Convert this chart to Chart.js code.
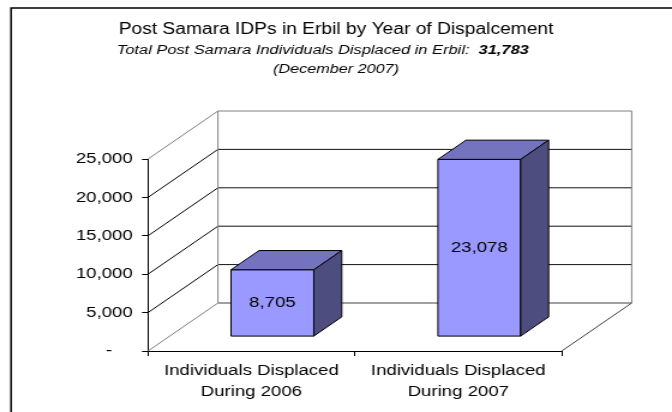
<!DOCTYPE html>
<html>
<head>
<meta charset="utf-8">
<script src="https://cdn.jsdelivr.net/npm/chart.js@4/dist/chart.umd.min.js"></script>
<style>
  html, body { margin: 0; padding: 0; background: #fff; overflow: hidden; }
  /* the original picture is stretched sideways, so draw narrow and widen it */
  #wrap { width: 560px; height: 412px; transform: scaleX(1.2); transform-origin: 0 0; }
</style>
</head>
<body>
<div id="wrap"><canvas id="idpChart" width="560" height="412"></canvas></div>
<script>
const categories = [["Individuals Displaced", "During 2006"], ["Individuals Displaced", "During 2007"]];
const displaced = [8705, 23078];
const yTicks = [0, 5000, 10000, 15000, 20000, 25000];
const titleText = "Post Samara IDPs in Erbil by Year of Dispalcement";
const subtitleText = "Total Post Samara Individuals Displaced in Erbil:  ";
const totalText = "31,783";
const dateText = "(December 2007)";

const FONT = '"Liberation Sans", Arial, sans-serif';
const DEPTH_X = 58.3;   // depth of the 3d box
const DEPTH_Y = -48;

function fmt(v) {
    return v === 0 ? "-    " : v.toLocaleString("en-US");
}

const box3d = {
    id: "box3d",
    beforeDraw(chart) {
        const ctx = chart.ctx;
        const cx = chart.width / 2;
        ctx.save();
        ctx.fillStyle = "#fff";
        ctx.fillRect(0, 0, chart.width, chart.height);

        // outer frame (only top and left are visible)
        ctx.strokeStyle = "#000";
        ctx.lineWidth = 1.5;
        ctx.beginPath();
        ctx.moveTo(9.2, chart.height + 2);
        ctx.lineTo(9.2, 8);
        ctx.lineTo(chart.width + 2, 8);
        ctx.stroke();

        // header
        ctx.fillStyle = "#000";
        ctx.textBaseline = "middle";
        ctx.textAlign = "center";
        ctx.font = "16px " + FONT;
        ctx.fillText(titleText, cx, 30);

        // second line sits a little left of centre in the original
        ctx.textAlign = "left";
        ctx.font = "italic 13.7px " + FONT;
        const w1 = ctx.measureText(subtitleText).width;
        ctx.font = "italic bold 13.7px " + FONT;
        const w2 = ctx.measureText(totalText).width;
        let x = 269 - (w1 + w2) / 2;
        ctx.font = "italic 13.7px " + FONT;
        ctx.fillText(subtitleText, x, 50.5);
        ctx.font = "italic bold 13.7px " + FONT;
        ctx.fillText(totalText, x + w1, 50.5);

        ctx.textAlign = "center";
        ctx.font = "italic 13.5px " + FONT;
        ctx.fillText(dateText, cx, 69.5);
        ctx.restore();
    },
    beforeDatasetsDraw(chart) {
        const { ctx, chartArea: a, scales: { y } } = chart;
        const dx = DEPTH_X, dy = DEPTH_Y;
        const line = (x1, y1, x2, y2, c) => {
            ctx.strokeStyle = c;
            ctx.beginPath();
            ctx.moveTo(x1, y1);
            ctx.lineTo(x2, y2);
            ctx.stroke();
        };
        ctx.save();
        ctx.lineWidth = 1;
        const last = yTicks.length - 1;
        yTicks.forEach((v, i) => {
            const py = y.getPixelForValue(v);
            const edge = i === 0 || i === last;
            // side wall
            line(a.left, py, a.left + dx, py + dy, edge ? "#7f7f7f" : "#000");
            // back wall
            line(a.left + dx, py + dy, a.right + dx, py + dy,
                i === last ? "#7f7f7f" : (i === 0 ? "#404040" : "#111"));
        });
        line(a.left + dx, a.top + dy, a.left + dx, a.bottom + dy, "#7f7f7f");
        line(a.right + dx, a.top + dy, a.right + dx, a.bottom + dy, "#7f7f7f");
        line(a.right, a.bottom, a.right + dx, a.bottom + dy, "#404040");
        ctx.restore();
    },
    afterDatasetsDraw(chart) {
        const ctx = chart.ctx;
        const dx = DEPTH_X, dy = DEPTH_Y;
        const poly = (pts, fill) => {
            ctx.beginPath();
            ctx.moveTo(pts[0][0], pts[0][1]);
            pts.slice(1).forEach(p => ctx.lineTo(p[0], p[1]));
            ctx.closePath();
            ctx.fillStyle = fill;
            ctx.fill();
            ctx.stroke();
        };
        ctx.save();
        ctx.strokeStyle = "#000";
        ctx.lineWidth = 1;
        ctx.lineJoin = "miter";
        chart.getDatasetMeta(0).data.forEach((bar, i) => {
            const p = bar.getProps(["x", "y", "base", "width"], true);
            const fx = 0.3 * dx, fy = 0.3 * dy;
            const bx = 0.4 * dx, by = 0.4 * dy;
            const x0 = p.x - p.width / 2 + fx, x1 = p.x + p.width / 2 + fx;
            const top = p.y + fy, bot = p.base + fy;
            poly([[x0, top], [x1, top], [x1, bot], [x0, bot]], "#9999FF");
            poly([[x0, top], [x0 + bx, top + by], [x1 + bx, top + by], [x1, top]], "#7373BF");
            poly([[x1, top], [x1 + bx, top + by], [x1 + bx, bot + by], [x1, bot]], "#4D4D80");
            ctx.fillStyle = "#000";
            ctx.font = "15.5px " + FONT;
            ctx.textAlign = "center";
            ctx.textBaseline = "middle";
            ctx.fillText(displaced[i].toLocaleString("en-US"), (x0 + x1) / 2, (top + bot) / 2);
        });
        ctx.restore();
    }
};

const ctx = document.getElementById("idpChart").getContext("2d");
const idpChart = new Chart(ctx, {
    type: "bar",
    data: {
        labels: categories,
        datasets: [{
            label: "Individuals Displaced",
            data: displaced,
            backgroundColor: "rgba(0,0,0,0)",
            borderWidth: 0,
            barPercentage: 0.4,
            categoryPercentage: 1
        }]
    },
    options: {
        responsive: false,
        animation: false,
        layout: { padding: { top: 159, right: 91.9, bottom: 0, left: 0 } },
        plugins: {
            legend: { display: false },
            tooltip: { enabled: false },
            title: { display: false }
        },
        scales: {
            y: {
                min: 0,
                max: 25000,
                afterBuildTicks: axis => { axis.ticks = yTicks.map(v => ({ value: v })); },
                afterFit: axis => { axis.width = 123.3; },
                grid: { drawOnChartArea: false, tickLength: 5, color: "#000" },
                border: { color: "#000", width: 1 },
                ticks: {
                    padding: 7.7,
                    color: "#000",
                    font: { family: FONT, size: 15.5 },
                    callback: v => fmt(v)
                }
            },
            x: {
                afterFit: axis => { axis.height = 61; },
                grid: { drawOnChartArea: false, tickLength: 5, color: "#000", offset: true },
                border: { color: "#000", width: 1 },
                ticks: {
                    padding: 3.5,
                    color: "#000",
                    maxRotation: 0,
                    autoSkip: false,
                    font: { family: FONT, size: 15.5, lineHeight: 1.39 }
                }
            }
        }
    },
    plugins: [box3d]
});
</script>
</body>
</html>
